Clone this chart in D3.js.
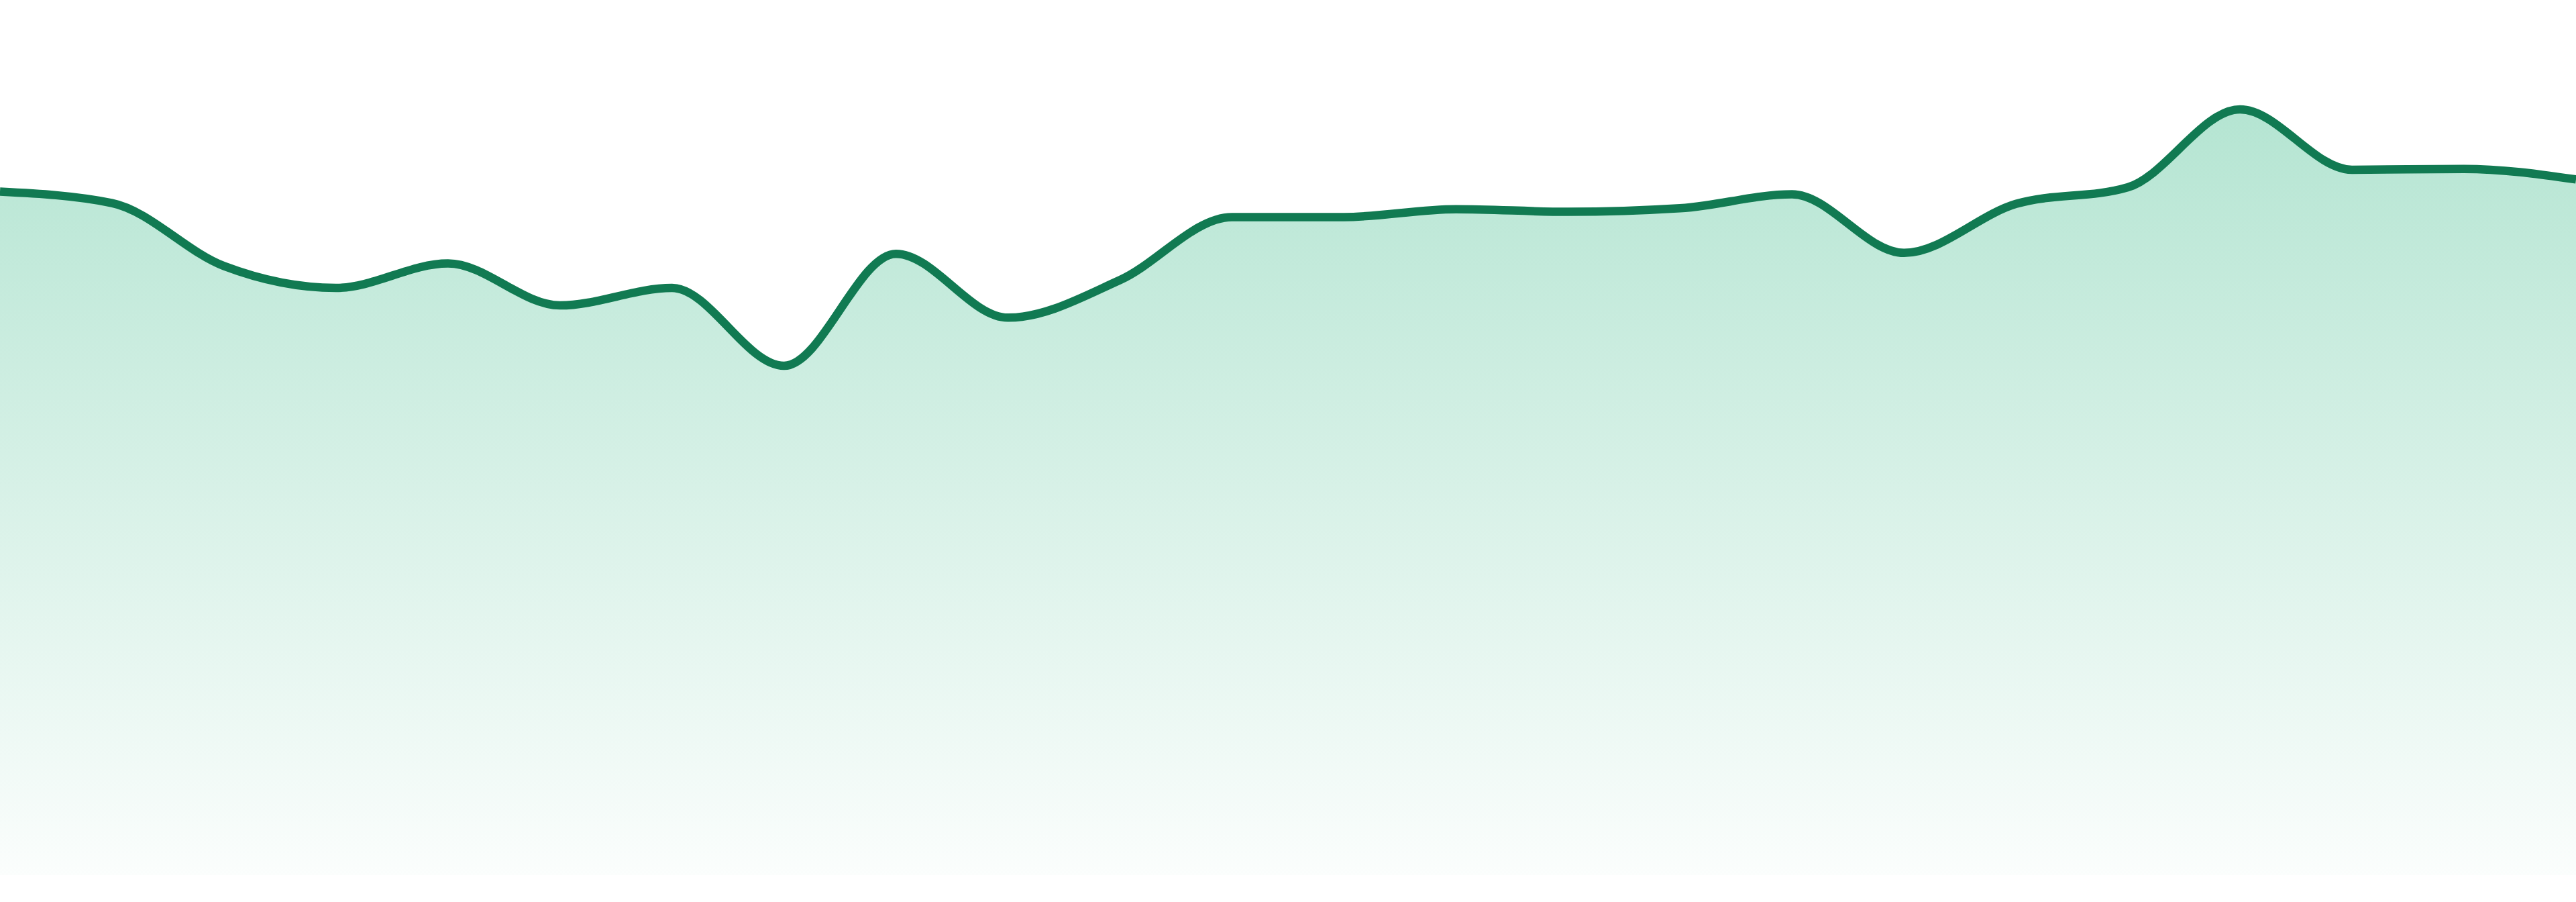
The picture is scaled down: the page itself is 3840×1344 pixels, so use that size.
<!DOCTYPE html>
<html>
<head>
<meta charset="utf-8">
<script src="https://cdn.jsdelivr.net/npm/d3@7"></script>
<style>
    html, body { margin: 0; padding: 0; background: #fff; overflow: hidden; }
    #chart { width: 3840px; height: 1344px; }
</style>
</head>
<body>
<div id="chart"></div>
<script>
    // ── data ─────────────────────────────────────────────────────────────────
    const values = [
        78.1, 76.8, 69.6, 67.1, 69.9, 65.1, 67.1, 58.2,
        71.0, 63.7, 68.0, 75.2, 75.2, 76.1, 75.8, 76.2,
        77.8, 71.1, 76.7, 78.6, 87.5, 80.6, 80.7, 79.5
    ];
    const yDomain = [0, 100];

    // ── layout ───────────────────────────────────────────────────────────────
    const width  = 3840;
    const height = 1344;
    const margin = { top: 0, right: 0, bottom: 40, left: 0 };

    const x = d3.scaleLinear()
        .domain([0, values.length - 1])
        .range([margin.left, width - margin.right]);

    const y = d3.scaleLinear()
        .domain(yDomain)
        .range([height - margin.bottom, margin.top]);

    const svg = d3.select('#chart')
        .append('svg')
        .attr('width', width)
        .attr('height', height);

    // fade the fill from mint to near white
    const grad = svg.append('defs')
        .append('linearGradient')
        .attr('id', 'fill-grad')
        .attr('x1', 0).attr('y1', 0)
        .attr('x2', 0).attr('y2', 1);
    grad.append('stop').attr('offset', '0%')
        .attr('stop-color', '#30b682').attr('stop-opacity', 0.36);
    grad.append('stop').attr('offset', '100%')
        .attr('stop-color', '#30b682').attr('stop-opacity', 0.02);

    const area = d3.area()
        .x((d, i) => x(i))
        .y0(y(yDomain[0]))
        .y1(d => y(d))
        .curve(d3.curveMonotoneX);

    const line = d3.line()
        .x((d, i) => x(i))
        .y(d => y(d))
        .curve(d3.curveMonotoneX);

    svg.append('path')
        .datum(values)
        .attr('d', area)
        .attr('fill', 'url(#fill-grad)');

    svg.append('path')
        .datum(values)
        .attr('d', line)
        .attr('fill', 'none')
        .attr('stroke', '#117a52')
        .attr('stroke-width', 12.5)
        .attr('stroke-linejoin', 'round');
</script>
</body>
</html>
